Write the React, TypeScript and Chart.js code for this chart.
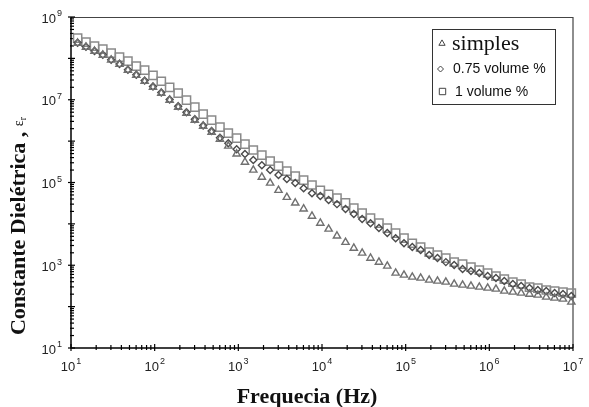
import { useEffect, useRef } from 'react';
import { Chart, registerables } from 'chart.js';

Chart.register(...registerables);

// Frequency (Hz)
const frequencies = [
  12, 15.1, 19.1, 24, 30.2, 38, 47.9, 60.3, 75.9, 95.5,
  120, 151, 191, 240, 302, 380, 479, 603, 759, 955,
  1200, 1510, 1910, 2400, 3020, 3800, 4790, 6030, 7590, 9550,
  12000, 15100, 19100, 24000, 30200, 38000, 47900, 60300, 75900, 95500,
  120000, 151000, 191000, 240000, 302000, 380000, 479000, 603000, 759000, 955000,
  1200000, 1510000, 1910000, 2400000, 3020000, 3800000, 4790000, 6030000, 7590000, 9550000,
];

const simples = [
  2.33e8, 1.87e8, 1.49e8, 1.2e8, 9.1e7, 7.2e7, 5.2e7, 3.9e7, 2.8e7, 2.0e7,
  1.44e7, 9.8e6, 6.6e6, 4.7e6, 3.2e6, 2.3e6, 1.65e6, 1.12e6, 7.6e5, 4.9e5,
  3.1e5, 2.0e5, 1.35e5, 9.7e4, 6.5e4, 4.4e4, 3.2e4, 2.3e4, 1.54e4, 1.04e4,
  7.5e3, 5.1e3, 3.6e3, 2.6e3, 1.97e3, 1.49e3, 1.19e3, 957, 648, 580,
  519, 491, 440, 415, 393, 352, 332, 315, 297, 281,
  266, 238, 225, 213, 201, 191, 171, 161, 153, 129,
];

const vol075 = [
  2.4e8, 1.9e8, 1.5e8, 1.22e8, 9.3e7, 7.3e7, 5.3e7, 4.0e7, 2.9e7, 2.1e7,
  1.5e7, 1.02e7, 7.0e6, 5.0e6, 3.4e6, 2.4e6, 1.75e6, 1.2e6, 8.9e5, 6.4e5,
  4.9e5, 3.5e5, 2.6e5, 2.0e5, 1.51e5, 1.21e5, 9.7e4, 7.3e4, 5.5e4, 4.7e4,
  3.8e4, 3.0e4, 2.3e4, 1.73e4, 1.31e4, 1.04e4, 7.9e3, 6.0e3, 4.5e3, 3.4e3,
  2.75e3, 2.33e3, 1.76e3, 1.49e3, 1.19e3, 1.01e3, 810, 724, 648, 548,
  491, 415, 352, 315, 281, 252, 238, 213, 201, 180,
];

const vol1 = [
  3.08e8, 2.46e8, 1.97e8, 1.67e8, 1.34e8, 1.07e8, 8.6e7, 6.5e7, 5.2e7, 3.9e7,
  2.8e7, 2.0e7, 1.44e7, 9.8e6, 6.6e6, 4.5e6, 3.2e6, 2.18e6, 1.56e6, 1.18e6,
  8.5e5, 6.1e5, 4.6e5, 3.3e5, 2.5e5, 1.88e5, 1.43e5, 1.14e5, 8.7e4, 6.5e4,
  5.2e4, 4.2e4, 3.2e4, 2.4e4, 1.82e4, 1.38e4, 1.04e4, 7.9e3, 6.0e3, 4.5e3,
  3.4e3, 2.75e3, 2.08e3, 1.76e3, 1.49e3, 1.19e3, 1.07e3, 905, 766, 648,
  548, 464, 393, 352, 297, 281, 252, 238, 225, 213,
];

const seriesLabels = ['simples', '0.75 volume %', '1 volume %'];
const xTickExponents = [1, 2, 3, 4, 5, 6, 7];
const yLabelExponents = [1, 3, 5, 7, 9];
const yMajorExponents = [1, 2, 3, 4, 5, 6, 7, 8, 9];
const minorMultipliers = [2, 3, 4, 5, 6, 7, 8, 9];
const xTitle = 'Frequecia (Hz)';
const yTitle = 'Constante Dielétrica , ';
const yTitleSymbol = 'ε';
const yTitleSub = 'r';

const SANS = '"Liberation Sans", Arial, sans-serif';
const SERIF = '"Liberation Serif", "Times New Roman", serif';

function drawPow(ctx: CanvasRenderingContext2D, exp: number, x: number, y: number, align: 'right' | 'center') {
  ctx.font = `13px ${SANS}`;
  const wb = ctx.measureText('10').width;
  ctx.font = `9px ${SANS}`;
  const we = ctx.measureText(String(exp)).width;
  const total = wb + 1 + we;
  const start = align === 'right' ? x - total : x - total / 2;
  ctx.textAlign = 'left';
  ctx.textBaseline = 'middle';
  ctx.font = `13px ${SANS}`;
  ctx.fillText('10', start, y + 2);
  ctx.font = `9px ${SANS}`;
  ctx.fillText(String(exp), start + wb + 1, y - 3);
}

function markerPath(ctx: CanvasRenderingContext2D, kind: string, x: number, y: number, r: number) {
  ctx.beginPath();
  if (kind === 'triangle') {
    ctx.moveTo(x, y - r);
    ctx.lineTo(x + r * 0.866, y + r * 0.5);
    ctx.lineTo(x - r * 0.866, y + r * 0.5);
    ctx.closePath();
  } else if (kind === 'diamond') {
    ctx.moveTo(x, y - r);
    ctx.lineTo(x + r, y);
    ctx.lineTo(x, y + r);
    ctx.lineTo(x - r, y);
    ctx.closePath();
  } else {
    ctx.rect(x - r, y - r, 2 * r, 2 * r);
  }
  ctx.stroke();
}

const axesPlugin = {
  id: 'customAxes',
  beforeDatasetsDraw(chart: any) {
    const { ctx, chartArea } = chart;
    const xs = chart.scales.x;
    const ys = chart.scales.y;
    const { left, right, top, bottom } = chartArea;
    ctx.save();
    // frame
    ctx.strokeStyle = '#444';
    ctx.lineWidth = 1.2;
    ctx.beginPath();
    ctx.moveTo(left, top + 0.5);
    ctx.lineTo(right, top + 0.5);
    ctx.lineTo(right, bottom);
    ctx.stroke();
    ctx.strokeStyle = '#000';
    ctx.lineWidth = 1.5;
    ctx.beginPath();
    ctx.moveTo(left, top);
    ctx.lineTo(left, bottom);
    ctx.lineTo(right, bottom);
    ctx.stroke();

    // x ticks
    ctx.lineWidth = 1.2;
    xTickExponents.forEach((e) => {
      const px = xs.getPixelForValue(Math.pow(10, e));
      ctx.beginPath();
      ctx.moveTo(px, bottom - 4);
      ctx.lineTo(px, bottom + 3);
      ctx.stroke();
      if (e < 7) {
        minorMultipliers.forEach((m) => {
          const mx = xs.getPixelForValue(m * Math.pow(10, e));
          ctx.beginPath();
          ctx.moveTo(mx, bottom - 3);
          ctx.lineTo(mx, bottom + 2);
          ctx.stroke();
        });
      }
    });
    // y ticks
    yMajorExponents.forEach((e) => {
      const py = ys.getPixelForValue(Math.pow(10, e));
      ctx.beginPath();
      ctx.moveTo(left - 3, py);
      ctx.lineTo(left + 4, py);
      ctx.stroke();
      if (e < 9) {
        minorMultipliers.forEach((m) => {
          const my = ys.getPixelForValue(m * Math.pow(10, e));
          ctx.beginPath();
          ctx.moveTo(left - 1, my);
          ctx.lineTo(left + 3, my);
          ctx.stroke();
        });
      }
    });

    // tick labels
    ctx.fillStyle = '#222';
    xTickExponents.forEach((e) => {
      const px = xs.getPixelForValue(Math.pow(10, e));
      drawPow(ctx, e, px, bottom + 17, 'center');
    });
    yLabelExponents.forEach((e) => {
      const py = ys.getPixelForValue(Math.pow(10, e));
      drawPow(ctx, e, left - 9, py, 'right');
    });

    // titles
    ctx.fillStyle = '#111';
    ctx.font = `bold 22px ${SERIF}`;
    ctx.textAlign = 'center';
    ctx.textBaseline = 'alphabetic';
    ctx.fillText(xTitle, 307, 403);

    ctx.translate(25, 226);
    ctx.rotate(-Math.PI / 2);
    ctx.font = `bold 22px ${SERIF}`;
    const w1 = ctx.measureText(yTitle).width;
    ctx.font = `14px ${SERIF}`;
    const w2 = ctx.measureText(yTitleSymbol).width;
    ctx.font = `10px ${SERIF}`;
    const w3 = ctx.measureText(yTitleSub).width;
    const start = -(w1 + w2 + w3) / 2;
    ctx.textAlign = 'left';
    ctx.font = `bold 22px ${SERIF}`;
    ctx.fillText(yTitle, start, 0);
    ctx.font = `14px ${SERIF}`;
    ctx.fillText(yTitleSymbol, start + w1, -2);
    ctx.font = `10px ${SERIF}`;
    ctx.fillText(yTitleSub, start + w1 + w2, 1);
    ctx.restore();
  },
  afterDraw(chart: any) {
    const { ctx } = chart;
    ctx.save();
    // legend box
    ctx.fillStyle = '#fff';
    ctx.fillRect(432, 29, 123, 75);
    ctx.strokeStyle = '#333';
    ctx.lineWidth = 1;
    ctx.strokeRect(432.5, 29.5, 123, 75);
    ctx.lineWidth = 1;
    ctx.strokeStyle = '#444';
    markerPath(ctx, 'triangle', 442, 43.5, 3.6);
    markerPath(ctx, 'diamond', 440.5, 69, 3);
    markerPath(ctx, 'square', 442.5, 91.5, 3.2);
    ctx.fillStyle = '#111';
    ctx.textAlign = 'left';
    ctx.textBaseline = 'alphabetic';
    ctx.font = `22px ${SERIF}`;
    ctx.fillText(seriesLabels[0], 452, 50);
    ctx.font = `14px ${SANS}`;
    ctx.fillText(seriesLabels[1], 453, 73);
    ctx.fillText(seriesLabels[2], 455, 96);
    ctx.restore();
  },
};

export default function App() {
  const ref = useRef<HTMLCanvasElement | null>(null);
  useEffect(() => {
    if (!ref.current) return;
    const mk = (vals: number[]) => frequencies.map((f, i) => ({ x: f, y: vals[i] }));
    const chart = new Chart(ref.current, {
      type: 'scatter',
      data: {
        datasets: [
          {
            label: seriesLabels[0],
            data: mk(simples),
            pointStyle: 'triangle',
            pointRadius: 4.2,
            borderColor: '#707070',
            backgroundColor: 'rgba(0,0,0,0)',
            borderWidth: 1.4,
            clip: false,
          },
          {
            label: seriesLabels[1],
            data: mk(vol075),
            pointStyle: 'rectRot',
            pointRadius: 3.5,
            borderColor: '#4a4a4a',
            backgroundColor: 'rgba(0,0,0,0)',
            borderWidth: 1.4,
            clip: false,
          },
          {
            label: seriesLabels[2],
            data: mk(vol1),
            pointStyle: 'rect',
            pointRadius: 5.8,
            borderColor: '#8a8a8a',
            backgroundColor: 'rgba(0,0,0,0)',
            borderWidth: 1.5,
            clip: false,
          },
        ],
      },
      options: {
        responsive: false,
        animation: false,
        devicePixelRatio: 1,
        layout: { padding: { left: 71, right: 16, top: 17, bottom: 59 } },
        plugins: { legend: { display: false }, tooltip: { enabled: false } },
        scales: {
          x: { type: 'logarithmic', min: 10, max: 1e7, display: false },
          y: { type: 'logarithmic', min: 10, max: 1e9, display: false },
        },
      },
      plugins: [axesPlugin],
    });
    return () => chart.destroy();
  }, []);
  return (
    <div style={{ position: 'absolute', left: 0, top: 0, width: 589, height: 407, background: '#fff' }}>
      <canvas ref={ref} width={589} height={407} />
    </div>
  );
}
